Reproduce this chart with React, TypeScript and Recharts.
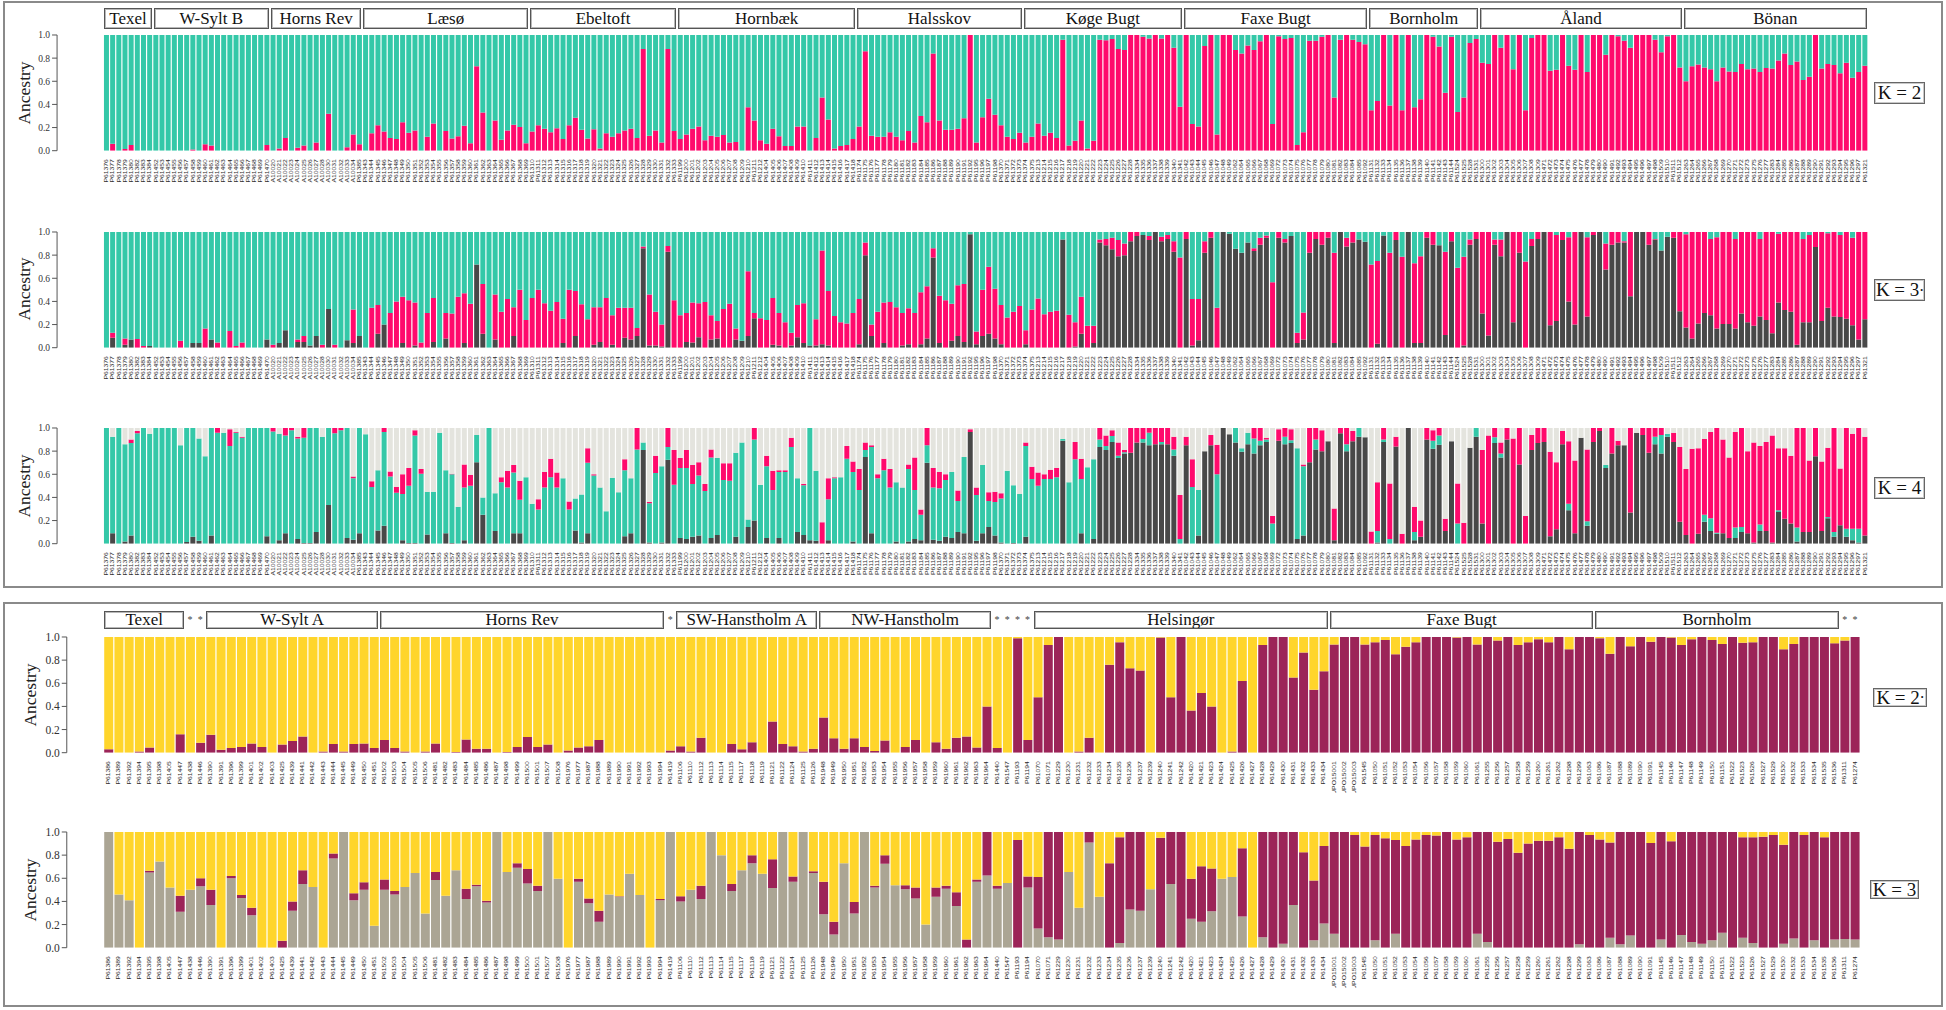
import React from 'react';
import { BarChart, Bar, XAxis, YAxis } from 'recharts';

const SERIF = '"Liberation Serif", "Times New Roman", serif';
const SANS = '"Liberation Sans", Arial, sans-serif';

const GREEN = '#34c8a8';
const PINK = '#ff0a6c';
const DARK = '#484848';
const LIGHT = '#e4e4de';
const YELLOW = '#ffd52b';
const MAGENTA = '#9c2458';
const TAUPE = '#aba594';

const splitIds = (s: string) => s.trim().split(/\s+/);

// sample ids, top panel (in population order)
const topIds = splitIds(`
P61376 P61377 P61378 P61379 P61380 P61382 P61383 P61384
P61452 P61453 P61454 P61455 P61456 P61457 P61458 P61459 P61460 P61461 P61462 P61463 P61464 P61465 P61466 P61467 P61468 P61469 P61470
A10020 A10021 A10022 A10023 A10024 A10025 A10026 A10027 A10028 A10030 A10031 A10032 A10033 A10034 P61385
P61343 P61344 P61345 P61346 P61347 P61348 P61349 P61350 P61351 P61352 P61353 P61354 P61355 P61356 P61357 P61358 P61359 P61360 P61361 P61362 P61363 P61364 P61365 P61366 P61367 P61368 P61369
P61310 P61311 P61312 P61313 P61314 P61315 P61316 P61317 P61318 P61319 P61320 P61321 P61322 P61323 P61324 P61325 P61326 P61327 P61328 P61329 P61330 P61331 P61332 P61333
P61199 P61200 P61201 P61202 P61203 P61204 P61205 P61206 P61207 P61208 P61209 P61210 P61211 P61212 P61404 P61405 P61406 P61407 P61408 P61409 P61410 P61411 P61412 P61413 P61414 P61415 P61416 P61417 P61418
P61174 P61175 P61176 P61177 P61178 P61179 P61180 P61181 P61182 P61183 P61184 P61185 P61186 P61187 P61188 P61189 P61190 P61191 P61192 P61195 P61196 P61197 P61198 P61370 P61371 P61372 P61373
P61374 P61375 P61213 P61214 P61215 P61216 P61217 P61218 P61219 P61220 P61221 P61222 P61223 P61224 P61225 P61226 P61227 P61228 P61334 P61335 P61336 P61337 P61338 P61339 P61340 P61341
P61042 P61043 P61044 P61045 P61046 P61047 P61048 P61049 P61062 P61064 P61065 P61066 P61067 P61068 P61069 P61072 P61073 P61074 P61075 P61076 P61077 P61078 P61079 P61080 P61081 P61082 P61083 P61084 P61085 P61092
P61131 P61132 P61133 P61134 P61135 P61136 P61137 P61138 P61139 P61140 P61141 P61142 P61143 P61144 P61524 P61525 P61528 P61531
P61300 P61301 P61302 P61303 P61304 P61305 P61306 P61307 P61308 P61309 P61471 P61472 P61473 P61474 P61475 P61476 P61477 P61478 P61479 P61480 P61490 P61491 P61492 P61493 P61494 P61495 P61496 P61497 P61498 P61509 P61510 P61511 P61512
P61263 P61264 P61265 P61266 P61267 P61268 P61269 P61270 P61271 P61272 P61273 P61275 P61276 P61277 P61283 P61284 P61285 P61286 P61287 P61288 P61289 P61290 P61291 P61292 P61293 P61294 P61295 P61296 P61297 P61321
`);

// sample ids, bottom panel
const bottomIds = splitIds(`
P61386 P61389 P61392 P61394 P61395 P61398 P61405 P61447
P61438 P61446
P61390 P61391 P61396 P61399 P61401 P61402 P61403 P61425 P61439 P61441 P61442 P61443 P61444 P61445 P61449 P61450 P61451
P61502 P61503 P61504 P61505 P61506 P61481 P61482 P61483 P61484 P61485 P61486 P61487 P61498 P61499 P61500 P61501 P61507 P61508 P61976 P61977 P61987 P61988 P61989 P61990 P61991 P61992 P61993 P61994
P61419
P61106 P61110 P61112 P61113 P61114 P61115 P61117 P61118 P61119 P61121 P61122 P61124 P61125 P61126
P61948 P61949 P61950 P61951 P61952 P61953 P61954 P61955 P61956 P61957 P61958 P61959 P61960 P61961 P61962 P61963 P61964
P61440 P61547 P61193 P61194
P61070 P61071 P61229 P61230 P61231 P61232 P61233 P61234 P61235 P61236 P61237 P61239 P61240 P61241 P61242 P61420 P61421 P61423 P61424 P61425 P61426 P61427 P61428 P61429 P61430 P61431 P61432 P61433 P61434
HUPO15001 HUPO15002 HUPO15003 P61545 P61050 P61051 P61052 P61053 P61054 P61056 P61057 P61058 P61059 P61060 P61061 P61255 P61256 P61257 P61258 P61259 P61260 P61261 P61262 P61298 P61299 P61063
P61086 P61087 P61088 P61089 P61090 P61091 P61145 P61146 P61147 P61148 P61149 P61150 P61151 P61522 P61523 P61526 P61527 P61529 P61530 P61532 P61533 P61534 P61535 P61536
P61311 P61274
`);

const topGroups: [string, number][] = [
  ['Texel', 8], ['W-Sylt B', 19], ['Horns Rev', 15], ['Læsø', 27], ['Ebeltoft', 24], ['Hornbæk', 29],
  ['Halsskov', 27], ['Køge Bugt', 26], ['Faxe Bugt', 30], ['Bornholm', 18], ['Åland', 33], ['Bönan', 30],
];
// '*' = single-sample sites shown without a box
const bottomGroups: [string, number][] = [
  ['Texel', 8], ['*', 2], ['W-Sylt A', 17], ['Horns Rev', 28], ['*', 1], ['SW-Hanstholm A', 14],
  ['NW-Hanstholm', 17], ['*', 4], ['Helsingør', 29], ['Faxe Bugt', 26], ['Bornholm', 24], ['*', 2],
];

const yTicks = [0, 0.2, 0.4, 0.6, 0.8, 1];

// ---- top panel, K = 2 (pink share, rest green)
const k2Pink = [
  0, .06, 0, .015, .05, 0, 0, 0,
  0, 0, 0, 0, 0, 0, .01, 0, .055, .045, 0, 0, 0, 0, 0, 0, 0, 0, .05,
  0, .02, .11, 0, .025, .045, 0, .07, 0, .32, 0, 0, .03, .14, .055,
  0, .15, .22, .165, .11, .1, .245, .155, .175, 0, .12, .235, 0, .17, .105, .125, .215, .065, .73, .33, 0, .26, .095, .175, .225, .205, .065,
  .165, .22, .19, .16, .195, .1, .22, .285, .18, .105, .185, .02, .15, .12, .15, .175, .19, .11, .88, .13, .175, .07, .88, .17,
  .1, .14, .19, .21, .09, .13, .12, .135, .07, .075, 0, .375, .26, .09, .06, .19, .125, .04, .04, .21, .21, 0, .11, .46, .27, .02, .04, .05, .1,
  .21, .86, .13, .12, .12, .16, .12, .09, .17, .07, .3, .245, .84, .26, .18, .18, .19, .28, 1, .07, .29, .45, .31, .22, .12, .1, .155,
  .07, .12, .235, .13, .155, .11, .96, .045, .085, .26, .02, .085, .96, .955, .965, .88, .87, 1, 1, .985, .97, 1, .97, 1, .89, .38,
  1, .23, .21, .905, 1, .14, 1, 1, .87, .84, .91, .87, .945, 1, .23, .99, .965, .975, .05, .16, .95, .95, .985, 1, .46, .96, 1, .96, .94, .92,
  .35, .43, 1, .39, 1, .35, 1, .375, .445, 1, .985, .9, .5, .985, .335, .46, .93, .965,
  .76, .75, 1, .89, 1, .705, 1, .35, .975, 1, 1, .69, .7, 1, .735, .7, 1, .68, 1, 1, .83, 1, .99, .95, .89, 1, 1, 1, .96, .85, .99, 1, .72,
  .6, .73, .745, .72, .705, .6, .72, .685, .68, .75, .705, .71, .68, .715, .71, .78, .84, .74, .77, .61, .64, 1, .71, .75, .74, .67, .76, .63, .68, .735,
];

// ---- top panel, K = 3 (dark, pink, rest green)
const k3Dark = [
  0, .085, 0, .025, .07, 0, 0, .015,
  0, 0, 0, 0, 0, 0, .04, .04, 0, .07, 0, 0, 0, 0, 0, 0, 0, 0, .07,
  0, .04, .15, 0, .05, .05, .02, .1, 0, .335, 0, 0, .065, .04, .1,
  0, 0, .12, .2, 0, 0, .04, 0, .02, 0, 0, .05, 0, .08, 0, 0, .04, 0, .72, .12, 0, .07, 0, 0, .1, 0, 0,
  0, 0, 0, 0, 0, .04, 0, .1, 0, 0, .025, .05, 0, .025, 0, .085, .07, .1, .86, .02, .02, .01, .83, 0,
  0, .05, .045, .09, 0, .07, .08, 0, 0, .07, .06, .1, .255, 0, 0, .025, .02, 0, .02, .09, .04, .02, .02, .03, .02, 0, 0, 0, 0,
  .03, .8, .1, 0, .04, 0, 0, .02, .03, 0, .03, .08, .78, .04, 0, .06, .1, .05, .98, .03, .1, .12, .08, .03, 0, 0, 0,
  .03, 0, 0, 0, 0, 0, .935, 0, .01, .12, 0, .04, .91, .885, .85, .79, .8, .92, .965, .975, .93, 1, .92, .94, .83, 0,
  .94, .02, .065, .82, .95, 0, 1, .985, .855, .82, .91, .835, .89, .95, 0, .95, .91, .965, .04, .07, .82, .94, .89, .95, .04, 1, .875, .91, .935, .915,
  0, .035, .97, 0, .93, 0, 1, .04, .04, .95, .89, .885, .11, .92, 0, .02, .89, .94,
  .295, .105, .89, .79, 1, .22, .82, 0, .88, .94, 1, .195, .23, .93, .4, .2, 1, .27, .975, 1, .675, .89, .91, .91, .445, 1, 1, .89, .935, .84, .96, .95, .315,
  .175, .08, .21, .3, .28, .165, .205, .205, .165, .295, .22, .19, .27, .24, .125, .39, .325, .31, .025, .22, .22, .87, .23, .345, .27, .265, .25, .195, .07, .245,
];
const k3Pink = [
  0, .045, 0, .055, 0, .075, .015, 0,
  0, 0, 0, 0, .06, 0, 0, 0, .165, 0, .045, 0, .145, .015, .045, 0, 0, 0, 0,
  .025, 0, 0, 0, .02, .05, 0, 0, .025, 0, .025, 0, 0, .29, 0,
  0, .345, .25, 0, .3, .4, .4, .41, .37, .045, .3, .38, 0, .22, .295, .44, .43, .38, 0, .43, 0, .39, .31, .42, .25, .5, .24,
  .43, .5, .385, .32, .395, .21, .5, .39, .375, .245, .325, .3, .43, .255, .345, .26, .275, .07, .015, .44, .29, .19, .05, .41,
  .28, .25, .345, .295, .395, .21, .15, .335, .38, .095, 0, .56, .045, .255, .24, .405, .28, .22, .11, .28, .345, 0, .225, .81, .47, .275, .22, .21, .3,
  .39, .11, .1, .31, .35, .395, .35, .28, .31, .3, .45, .45, .08, .41, .41, .32, .44, .5, 0, .11, .4, .58, .43, .34, .26, .31, .36,
  .12, .33, .425, .29, .31, .32, 0, .285, .21, .32, .19, .15, .025, .055, .1, .14, .1, .08, .035, 0, .035, 0, .04, .035, .09, .78,
  .06, .4, .355, .1, .05, .345, 0, 0, 0, 0, 0, .025, .06, .02, .565, .05, .03, 0, .09, .235, .18, .06, .11, .05, .78, 0, .075, .09, 0, 0,
  .72, .715, 0, .82, .07, .785, 0, .69, .75, .05, .11, 0, .72, .08, .69, .765, .045, .06,
  .705, .895, .045, .145, 0, .78, .18, .745, .06, .06, 0, .805, .745, .07, .555, .8, 0, .685, .025, 0, .225, .11, .09, .01, .555, 0, 0, .11, .005, 0, 0, .05, .685,
  .805, .92, .79, .7, .66, .79, .795, .795, .775, .705, .78, .81, .67, .76, .875, .595, .675, .69, .975, .72, .755, .13, .77, .645, .73, .71, .75, .755, .93, .755,
];

// ---- top panel, K = 4 (dark, green, pink, rest light grey)
const k4Dark = [
  0, .09, 0, .02, .07, 0, 0, 0,
  0, 0, 0, 0, 0, .015, .06, .025, 0, .07, 0, 0, 0, 0, 0, 0, 0, 0, .065,
  0, .03, .09, 0, .04, .005, .005, .1, 0, .335, 0, 0, .05, .035, .09,
  0, 0, .115, .155, 0, 0, .03, .005, .005, 0, .08, 0, 0, .09, .005, 0, .03, 0, .705, .25, 0, .11, 0, 0, .09, .09, 0,
  0, 0, 0, 0, 0, 0, 0, .115, .01, .09, 0, 0, 0, 0, 0, .065, .09, 0, .81, .01, 0, .01, .725, 0,
  .05, .04, .06, .07, 0, .05, .075, 0, 0, .06, 0, .145, .2, 0, .05, 0, .05, 0, 0, .1, .075, .03, .025, 0, .03, 0, 0, 0, .02,
  0, .75, .09, 0, 0, 0, .02, 0, .02, .04, .03, .7, .035, .025, .06, .05, .1, .09, .965, .025, .09, .145, .07, .01, 0, .005, 0,
  .06, 0, 0, 0, 0, 0, .89, 0, 0, .09, 0, .04, .835, .81, .88, .74, .78, .785, .875, .875, .85, .86, .86, .86, .76, 0,
  .85, 0, .07, .8, .85, 0, 1, .945, .875, .795, .86, .78, .85, .88, 0, .89, .86, .87, .04, .07, .705, .815, .8, .885, .03, .955, .8, .885, .925, .92,
  0, .01, .88, 0, .84, 0, 1, .03, .06, .9, .82, .855, .11, .885, 0, 0, .83, .925,
  .175, 0, .87, .745, .9, 0, .685, 0, .81, .87, .88, .065, .125, .86, .29, .09, .915, .155, .88, .975, .655, .78, .85, .85, .27, .96, .94, .785, .86, .78, .925, .88, .19,
  .075, 0, .085, .19, .11, .085, .09, .05, .05, .1, .09, .01, .11, .11, .01, .275, .215, .175, .02, .1, .1, .755, .11, .22, .06, .16, .06, .03, .01, .07,
];
const k4Green = [
  1, .835, 1, .84, .8, .955, 1, .95,
  1, 1, 1, 1, .85, .985, .94, .885, .755, .93, .96, .96, .845, .96, .915, 1, 1, 1, .935,
  .97, .92, .845, .98, .87, .91, .995, .9, .925, .665, .955, .98, .95, .53, .91,
  .945, .49, .52, .81, .58, .44, .4, .495, .93, .605, .37, .45, .96, .545, .595, .32, .455, .5, .235, .15, 1, .325, .53, .485, .525, .29, .575,
  .345, .295, .485, .575, .485, .565, .295, .275, .415, .61, .59, .485, .28, .57, .445, .57, .475, .815, .065, .34, .61, .66, .11, .51,
  .605, .615, .455, .52, .455, .695, .665, .55, .545, .725, .875, .065, .7, .51, .62, .465, .57, .62, .835, .465, .43, .97, .605, 0, .355, .565, .575, .735, .6,
  .465, .06, .745, .565, .635, .485, .51, .485, .625, .425, .22, .15, .45, .455, .49, .57, .27, .66, 0, .395, .59, .225, .29, .38, .63, .5, .43,
  .785, .56, .5, .56, .56, .575, .015, .53, .73, .47, .66, .69, .065, .035, .05, .02, .01, 0, 0, .03, .11, 0, .02, 0, .055, .04,
  0, .49, .395, 0, 0, .6, 0, 0, .125, .03, .1, .13, .04, .02, .175, 0, .065, .025, .785, .6, 0, .085, 0, 0, 0, 0, .06, 0, .075, 0,
  0, .1, .02, .04, 0, 0, 0, .07, 0, 0, .07, .08, 0, 0, .175, 0, 0, .075,
  0, 0, .05, .035, 0, 0, 0, 0, 0, 0, 0, 0, 0, 0, .055, 0, 0, .04, 0, 0, .025, 0, 0, 0, 0, 0, 0, 0, .065, .16, .025, 0, 0,
  0, 0, 0, .06, .11, .01, 0, 0, .09, .045, 0, 0, .055, 0, 0, .015, 0, 0, .12, 0, 0, 0, 0, .01, .04, 0, .07, .1, .12, 0,
];
const k4Pink = [
  0, 0, 0, 0, .03, .02, 0, 0,
  0, 0, 0, 0, 0, 0, 0, 0, 0, 0, .04, 0, .145, .005, .01, 0, 0, 0, 0,
  .03, 0, .065, .02, .015, .085, 0, 0, 0, 0, .045, .02, 0, .015, 0,
  0, .05, 0, .035, .045, .05, .17, .155, .045, .04, 0, 0, 0, 0, .005, 0, .2, .095, 0, 0, 0, 0, .045, .145, .065, .165, 0,
  0, .09, .135, .16, .13, 0, .07, 0, 0, .125, .01, 0, 0, 0, 0, .095, 0, .185, 0, .01, .15, 0, .165, .3,
  .085, .155, .165, .115, .06, .07, 0, .145, .15, 0, 0, 0, .1, 0, .09, .165, .015, .015, .08, 0, .01, 0, 0, .185, .18, .01, 0, .11, .09,
  .18, .065, .015, .035, .1, .16, 0, 0, .04, .28, .045, .15, .17, .14, .05, 0, .09, 0, .025, .065, 0, .075, .09, .045, 0, 0, 0,
  .03, .105, .115, .04, .08, .08, 0, 0, .15, .175, 0, 0, .1, .09, .05, .115, .02, .215, .125, .095, .04, .14, .12, .14, .11, .38,
  .075, .24, 0, 0, .09, .255, 0, 0, 0, 0, 0, .09, .11, .015, .065, .1, .075, .095, 0, .015, .295, .1, .18, 0, .275, .045, .14, .09, 0, 0,
  .105, .42, .1, .48, .085, .085, 0, .22, .14, .1, .09, .065, .105, 0, .345, .18, 0, 0,
  .635, .935, .08, .095, .1, .91, .315, .24, .13, .13, .12, .73, .58, .115, .54, .63, 0, .62, .12, .025, 0, .22, .04, 0, .73, 0, .06, .215, .075, .06, 0, .08, .645,
  .57, .82, .74, .655, .745, .905, .81, .695, .825, .855, .71, .865, .68, .77, .925, .535, .61, .585, .86, .9, .62, .245, .6, .6, .9, .49, .87, .82, .87, .855,
];

// ---- bottom panel, K = 2 (magenta share, rest yellow)
const b2Mag = [
  .03, 0, 0, .01, .045, 0, 0, .16,
  0, .085,
  .155, .025, .04, .05, .08, .05, 0, .07, .1, .14, 0, .01, .075, .01, .075, .08, .04,
  .11, .04, .01, 0, .01, .08, 0, .005, .115, .035, .035, 0, .005, .05, .135, .05, .07, 0, .02, .045, .055, .11, 0, 0, 0, 0, 0, 0,
  .02,
  .055, .01, .13, 0, 0, .075, .03, .09, 0, .27, .075, .055, .01, .035,
  .305, .125, .035, .125, .05, .015, .105, 0, .05, .11, 0, .09, .035, .13, .14, .045, .4,
  .04, 0, .99, .11,
  .48, .93, 1, 0, .01, .13, 0, .76, .955, .73, .71, 0, .995, .48, 1, .365, .515, .4, 0, .01, .62, 0, .93, 1, 1, .65, .865, .545, .705,
  .935, 1, 1, .935, .955, .975, .85, .915, .955, 1, 1, 1, .995, 1, .935, 1, .97, 1, .93, .955, .98, .955, 1, .895, 1, 1,
  .99, .855, 1, .92, 1, .96, 1, .995, .93, .98, 1, .975, .94, 1, .95, .955, 1, 1, .895, .94, 1, 1, 1, .945,
  .97, 1,
];

// ---- bottom panel, K = 3 (taupe, magenta, rest yellow)
const b3Taupe = [
  1, .46, .41, 0, .65, .745, .52, .31,
  .5, .53,
  .37, 0, .6, .43, .28, 0, 0, 0, .32, .55, .525, 0, .77, 1, .41, .5, .19,
  .5, .46, .525, .645, .295, .585, .45, .67, .42, .53, .39, 1, .655, .69, .555, .49, 1, .595, 0, .57, .385, .225, .46, .44, .64, .455, 0, .41,
  1,
  .4, .5, .42, 1, .8, .49, .67, .73, .64, .515, 1, .57, 1, .645,
  .29, .115, .73, .295, 1, .52, .725, .54, .505, .425, .2, .44, .51, .36, 0, .57, .625,
  .51, .56, 0, .52,
  .165, .09, .07, .655, .345, .91, .44, 0, .04, .33, .32, .505, 0, .55, 0, .25, .225, .315, .595, .61, .27, 0, .09, 0, .035, .37, 0, .065, .21,
  .12, 0, 0, 0, .065, 0, .12, 0, 0, 0, 0, 0, 0, 0, .12, .05, 0, 0, 0, 0, 0, 0, 0, 0, .03, 0,
  0, .085, .03, .105, 0, 0, .07, 0, .11, .05, .035, .065, .13, 0, .085, .04, 0, 0, .035, .08, 0, .065, 0, .07,
  .075, .07,
];
const b3Mag = [
  0, 0, 0, 0, .015, 0, 0, .14,
  0, .07,
  .13, 0, .02, .025, .065, 0, 0, .06, .08, .12, 0, 0, .045, 0, .06, .065, 0,
  .09, .03, 0, 0, 0, .07, 0, 0, .09, .015, .015, 0, 0, .04, .125, .045, 0, 0, 0, .025, .04, .095, 0, .005, 0, 0, 0, .01,
  0,
  .045, 0, .115, 0, 0, .06, 0, .07, 0, .25, 0, .045, 0, .015,
  .28, .11, 0, .1, 0, .015, .075, 0, .035, .095, 0, .08, .025, .12, .07, .02, .375,
  .025, 0, .93, .095,
  .445, .91, .93, 0, 0, .09, 0, .73, .915, .67, .68, 0, .95, .45, 1, .345, .48, .37, 0, 0, .59, 0, .91, 1, .965, .63, .825, .515, .67,
  .88, 1, .975, .875, .91, .945, .81, .88, .935, .975, .97, 1, .935, .955, .88, .95, .915, .94, .82, .9, .925, .925, .955, .855, .97, .975,
  .935, .825, .97, .895, 1, .905, .93, .92, .89, .95, .965, .935, .87, 1, .87, .915, .96, .975, .855, .92, .975, .935, .955, .93,
  .925, .93,
];

const rest = (...parts: number[]) => Math.max(0, 1 - parts.reduce((s, v) => s + v, 0));
const at = (arr: number[], i: number) => arr[i] ?? 0;

const topK2 = topIds.map((id, i) => ({ id, pink: at(k2Pink, i), green: rest(at(k2Pink, i)) }));
const topK3 = topIds.map((id, i) => ({
  id, dark: at(k3Dark, i), pink: at(k3Pink, i), green: rest(at(k3Dark, i), at(k3Pink, i)),
}));
const topK4 = topIds.map((id, i) => ({
  id, dark: at(k4Dark, i), green: at(k4Green, i), pink: at(k4Pink, i),
  light: rest(at(k4Dark, i), at(k4Green, i), at(k4Pink, i)),
}));
const botK2 = bottomIds.map((id, i) => ({ id, mag: at(b2Mag, i), yellow: rest(at(b2Mag, i)) }));
const botK3 = bottomIds.map((id, i) => ({
  id, taupe: at(b3Taupe, i), mag: at(b3Mag, i), yellow: rest(at(b3Taupe, i), at(b3Mag, i)),
}));

// layout
const W = 1946;
const TOP_AXIS = 57, TOP_L = 103.3, TOP_R = 1868;
const BOT_AXIS = 66.7, BOT_L = 103.3, BOT_R = 1860;
const PLOT_H = 115.7;

const IdTick = (props: any) => {
  const { x, y, payload } = props;
  return (
    <g transform={`translate(${x},${y}) rotate(-90) scale(1,0.7)`}>
      <text x={0} y={0} dy="0.36em" textAnchor="end" fontSize={6.8} fontFamily={SANS} fill="#2a2a2a">
        {payload.value}
      </text>
    </g>
  );
};

interface RowProps {
  data: any[];
  segs: { key: string; color: string }[];
  plotTop: number;
  axisX: number;
  plotL: number;
  plotR: number;
  gap: number;
  tickFont: number;
}

const Row = ({ data, segs, plotTop, axisX, plotL, plotR, gap, tickFont }: RowProps) => (
  <div style={{ position: 'absolute', left: 0, top: plotTop - 10 }}>
    <BarChart
      width={W}
      height={PLOT_H + 50}
      data={data}
      margin={{ top: 10, right: W - plotR, bottom: 0, left: 0 }}
      barCategoryGap={gap}
    >
      <XAxis
        dataKey="id"
        interval={0}
        height={40}
        axisLine={false}
        tickLine={false}
        tickSize={0}
        tickMargin={8.5}
        padding={{ left: plotL - axisX, right: 0 }}
        tick={(p: any) => <IdTick {...p} />}
      />
      <YAxis
        width={axisX}
        type="number"
        domain={[0, 1]}
        ticks={yTicks}
        allowDataOverflow
        tickFormatter={(v: number) => v.toFixed(1)}
        axisLine={{ stroke: '#555' }}
        tickLine={{ stroke: '#555' }}
        tickSize={5}
        tickMargin={2}
        tick={{ fontSize: tickFont, fill: '#333', fontFamily: SERIF }}
      />
      {segs.map((s) => (
        <Bar key={s.key} dataKey={s.key} stackId="q" fill={s.color} isAnimationActive={false} />
      ))}
    </BarChart>
  </div>
);

const Headers = ({ groups, left, right, top, height }: {
  groups: [string, number][]; left: number; right: number; top: number; height: number;
}) => {
  const total = groups.reduce((s, g) => s + g[1], 0);
  const step = (right - left) / total;
  let start = 0;
  return (
    <>
      {groups.map(([name, n], gi) => {
        const x0 = left + start * step;
        start += n;
        if (name === '*') {
          return Array.from({ length: n }, (_, k) => (
            <div key={`${gi}-${k}`} style={{
              position: 'absolute', left: x0 + (k + 0.5) * step - 4, top: top + height / 2 - 6,
              width: 8, textAlign: 'center', fontFamily: SERIF, fontSize: 10, lineHeight: '12px', color: '#444',
            }}>*</div>
          ));
        }
        return (
          <div key={gi} style={{
            position: 'absolute', left: x0 + 1, top, width: n * step - 2, height,
            boxSizing: 'border-box', border: '1px solid #555', boxShadow: 'inset 0 0 0 1px #b8b8b8',
            display: 'flex', alignItems: 'center', justifyContent: 'center',
            fontFamily: SERIF, fontSize: 17, color: '#111', whiteSpace: 'nowrap', overflow: 'hidden',
          }}>{name}</div>
        );
      })}
    </>
  );
};

const Ancestry = ({ cx, cy }: { cx: number; cy: number }) => (
  <div style={{
    position: 'absolute', left: cx, top: cy, transform: 'translate(-50%, -50%) rotate(-90deg)',
    fontFamily: SERIF, fontSize: 17.5, color: '#222', whiteSpace: 'nowrap',
  }}>Ancestry</div>
);

const KLabel = ({ x, y, w, h, k, star }: { x: number; y: number; w: number; h: number; k: number; star?: boolean }) => (
  <div style={{
    position: 'absolute', left: x, top: y, width: w, height: h, boxSizing: 'border-box',
    border: '1px solid #666', boxShadow: 'inset 0 0 0 1px #c8c8c8',
    display: 'flex', alignItems: 'center', justifyContent: 'center',
    fontFamily: SERIF, fontSize: 19, color: '#111', whiteSpace: 'nowrap',
  }}>
    K = {k}{star ? <span style={{ fontSize: 8, marginLeft: 1 }}>•</span> : null}
  </div>
);

const panelBox = (top: number, height: number): React.CSSProperties => ({
  position: 'absolute', left: 3, top, width: 1940, height, boxSizing: 'border-box', border: '2px solid #8a8a8a',
});

export default function App() {
  const topRows = [
    { data: topK2, segs: [{ key: 'pink', color: PINK }, { key: 'green', color: GREEN }], plotTop: 34.8, k: 2, star: false, ky: 82 },
    { data: topK3, segs: [{ key: 'dark', color: DARK }, { key: 'pink', color: PINK }, { key: 'green', color: GREEN }], plotTop: 231.5, k: 3, star: true, ky: 279 },
    { data: topK4, segs: [{ key: 'dark', color: DARK }, { key: 'green', color: GREEN }, { key: 'pink', color: PINK }, { key: 'light', color: LIGHT }], plotTop: 428.1, k: 4, star: false, ky: 477 },
  ];
  const botRows = [
    { data: botK2, segs: [{ key: 'mag', color: MAGENTA }, { key: 'yellow', color: YELLOW }], plotTop: 637.3, k: 2, star: true, ky: 688, kx: 1873, kw: 54 },
    { data: botK3, segs: [{ key: 'taupe', color: TAUPE }, { key: 'mag', color: MAGENTA }, { key: 'yellow', color: YELLOW }], plotTop: 832.3, k: 3, star: false, ky: 880, kx: 1870, kw: 49 },
  ];

  return (
    <div style={{ position: 'absolute', left: 0, top: 0, width: W, height: 1010, background: '#fff', overflow: 'hidden' }}>
      <div style={panelBox(1, 587)} />
      <div style={panelBox(602, 405)} />

      <Headers groups={topGroups} left={TOP_L} right={TOP_R} top={8} height={21} />
      <Headers groups={bottomGroups} left={BOT_L} right={BOT_R} top={610.5} height={18} />

      {topRows.map((r) => (
        <React.Fragment key={`t${r.k}`}>
          <Row data={r.data} segs={r.segs} plotTop={r.plotTop} axisX={TOP_AXIS} plotL={TOP_L} plotR={TOP_R} gap={0.6} tickFont={9.5} />
          <Ancestry cx={24} cy={r.plotTop + PLOT_H / 2} />
          <KLabel x={1874} y={r.ky} w={51} h={22} k={r.k} star={r.star} />
        </React.Fragment>
      ))}

      {botRows.map((r) => (
        <React.Fragment key={`b${r.k}`}>
          <Row data={r.data} segs={r.segs} plotTop={r.plotTop} axisX={BOT_AXIS} plotL={BOT_L} plotR={BOT_R} gap={0.85} tickFont={11.5} />
          <Ancestry cx={30} cy={r.plotTop + PLOT_H / 2} />
          <KLabel x={r.kx} y={r.ky} w={r.kw} h={19} k={r.k} star={r.star} />
        </React.Fragment>
      ))}
    </div>
  );
}
